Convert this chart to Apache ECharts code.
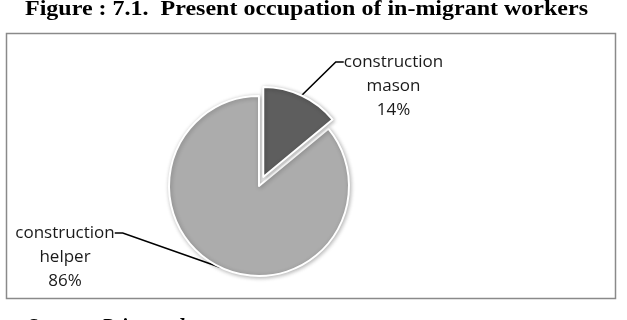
<!DOCTYPE html>
<html>
<head>
<meta charset="utf-8">
<script src="https://cdn.jsdelivr.net/npm/echarts@6/dist/echarts.min.js"></script>
<style>html,body{margin:0;padding:0;background:#fff;}#c{width:627px;height:320px;}</style>
</head>
<body>
<div id="c"></div>
<script>
const titleText = 'Figure : 7.1.  Present occupation of in-migrant workers';
const sourceText = 'Source : Primary data';
const categories = ['construction\nmason', 'construction\nhelper'];
const values = [14, 86];
const colors = ['#5e5e5e', '#acacac'];

// layout
const baseCenter = [259, 186];
const R = 90;
const explode = 10;
const total = values.reduce((a, b) => a + b, 0);
const mid = (90 - values[0] / total * 180) * Math.PI / 180;
const offCenter = [baseCenter[0] + explode * Math.cos(mid), baseCenter[1] - explode * Math.sin(mid)];

const titleFont = 'bold 20px "Liberation Serif"';
const cv = document.createElement('canvas').getContext('2d');
cv.font = titleFont;
const titleW = cv.measureText(titleText).width;
const titleScale = 563 / titleW;

const labelFontSize = 17, labelLH = 24;
const padTop = labelLH * 2; // makes the rect's middle sit on the first line
const labelPos = [
  {x: 393.5, y: 62 - labelLH / 2 - padTop},
  {x: 65, y: 233 - labelLH / 2 - padTop}
];

const hidden = {
  itemStyle: {color: 'rgba(0,0,0,0)', borderWidth: 0, shadowBlur: 0, shadowColor: 'rgba(0,0,0,0)'},
  label: {show: false}, labelLine: {show: false}
};

function makeSeries(idx, center) {
  return {
    type: 'pie',
    center: center,
    radius: [0, R],
    startAngle: 90,
    clockwise: true,
    silent: true,
    avoidLabelOverlap: false,
    itemStyle: {borderColor: '#fff', borderWidth: 2, shadowBlur: 4, shadowColor: 'rgba(0,0,0,0.28)', shadowOffsetX: 1, shadowOffsetY: 1},
    label: {
      show: true,
      formatter: p => p.name + '\n' + p.percent.toFixed(0) + '%',
      fontFamily: 'Open Sans', fontSize: labelFontSize, lineHeight: labelLH, color: '#1a1a1a',
      align: 'center', padding: [padTop, 0, 0, 0]
    },
    labelLine: {show: true, length: 20, length2: 8, lineStyle: {color: '#000', width: 1.6}},
    labelLayout: function (p) {
      if (p.dataIndex !== idx) return {};
      return {x: labelPos[idx].x, y: labelPos[idx].y, align: 'center', verticalAlign: 'top'};
    },
    data: categories.map((c, i) => i === idx
      ? {name: c, value: values[i], itemStyle: {color: colors[i]}}
      : Object.assign({name: c, value: values[i]}, hidden))
  };
}

const chart = echarts.init(document.getElementById('c'), null, {renderer: 'canvas'});
chart.setOption({
  animation: false,
  backgroundColor: '#fff',
  graphic: [
    {type: 'rect', shape: {x: 6.5, y: 33.5, width: 609, height: 265}, style: {fill: 'none', stroke: '#8a8a8a', lineWidth: 1.5}, z: -1},
    {type: 'text', x: 25, y: 10, scaleX: titleScale, style: {text: titleText, font: titleFont, fill: '#000', verticalAlign: 'middle', align: 'left'}},
    {type: 'text', x: 27, y: 328, style: {text: sourceText, font: 'italic bold 20px "Liberation Serif"', fill: '#000', verticalAlign: 'middle', align: 'left'}}
  ],
  series: [makeSeries(1, baseCenter), makeSeries(0, offCenter)]
});
</script>
</body>
</html>
